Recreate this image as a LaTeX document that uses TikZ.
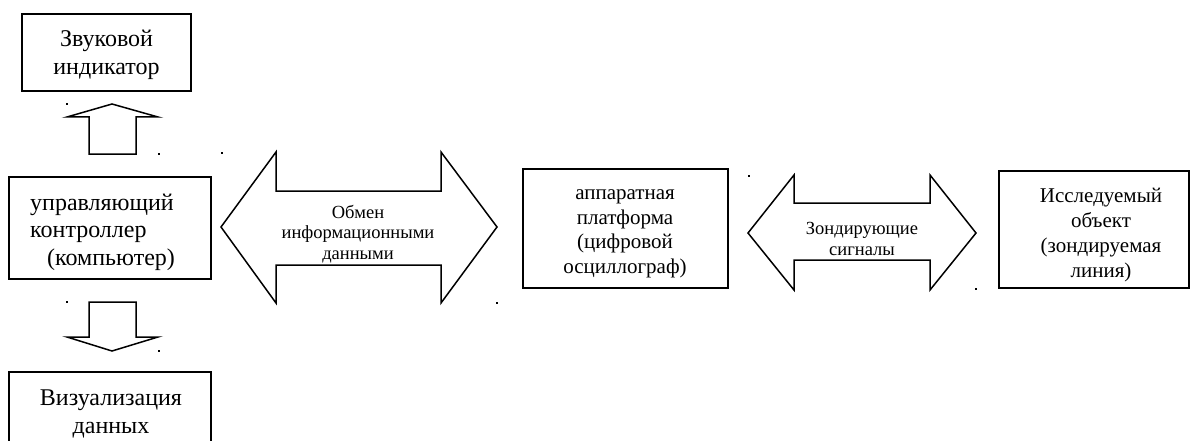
\documentclass[tikz,border=0pt]{standalone}
\usepackage{fontspec}
\setmainfont{Liberation Serif}
\begin{document}
\begin{tikzpicture}[x=1pt,y=-1pt,
  box/.style={draw=black,line width=1.8pt,inner sep=0pt},
  blockarrow/.style={draw=black,line width=1.5pt,line join=miter,fill=white},
  bigtxt/.style={font=\fontsize{24}{27.6}\selectfont,align=center,inner sep=0pt},
  midtxt/.style={font=\fontsize{21}{24.5}\selectfont,align=center,inner sep=0pt},
  smalltxt/.style={font=\fontsize{18.5}{20.7}\selectfont,align=center,inner sep=0pt},
  speck/.style={fill=black,inner sep=0pt,minimum size=1.6pt,shape=rectangle}]
\clip (0,0) rectangle (1190,441);
\fill[white] (0,0) rectangle (1190,441);
% boxes
\node[box,minimum width=169pt,minimum height=77pt] (snd) at (106.5,52.5) {};
\node[bigtxt] (sndt) at (106.5,55) {Звуковой\\индикатор};
\node[box,minimum width=202pt,minimum height=102pt] (ctl) at (110,228) {};
\node[bigtxt,align=left,anchor=west] (ctlt) at (30,232) {управляющий\\контроллер\\\hspace*{17pt}(компьютер)};
\node[box,minimum width=202pt,minimum height=100pt,anchor=north] (vis) at (110,371) {};
\node[bigtxt] (vist) at (111,414) {Визуализация\\данных};
\node[box,minimum width=205pt,minimum height=119pt] (hw) at (625.5,228.5) {};
\node[midtxt] (hwt) at (625,234) {аппаратная\\платформа\\(цифровой\\осциллограф)};
\node[box,minimum width=190pt,minimum height=117pt] (obj) at (1094,229.5) {};
\node[midtxt,font=\fontsize{21}{25}\selectfont] (objt) at (1101,235) {Исследуемый\\объект\\(зондируемая\\линия)};
% block arrows
\draw[blockarrow] (89,154) -- (89,117) -- (67,117) -- (112,104) -- (158,117) -- (136,117) -- (136,154) -- cycle;
\draw[blockarrow] (89,302) -- (136,302) -- (136,337) -- (158,337) -- (112,351) -- (67,337) -- (89,337) -- cycle;
\draw[blockarrow] (221,227) -- (276,152) -- (276,191) -- (441,191) -- (441,152) -- (497,227) -- (441,303) -- (441,265) -- (276,265) -- (276,303) -- cycle;
\node[smalltxt] (xch) at (358,234) {Обмен\\информационными\\данными};
\draw[blockarrow] (748,233) -- (794,175) -- (794,203) -- (930,203) -- (930,175) -- (976,233) -- (930,290) -- (930,260) -- (794,260) -- (794,290) -- cycle;
\node[smalltxt] (prb) at (862,239) {Зондирующие\\сигналы};
% stray specks
\node[speck] (s1) at (67,104) {};
\node[speck] (s2) at (159,154) {};
\node[speck] (s3) at (222,153) {};
\node[speck] (s4) at (497,303) {};
\node[speck] (s5) at (67,302) {};
\node[speck] (s6) at (159,351) {};
\node[speck] (s7) at (749,176) {};
\node[speck] (s8) at (976,289) {};
\end{tikzpicture}
\end{document}
